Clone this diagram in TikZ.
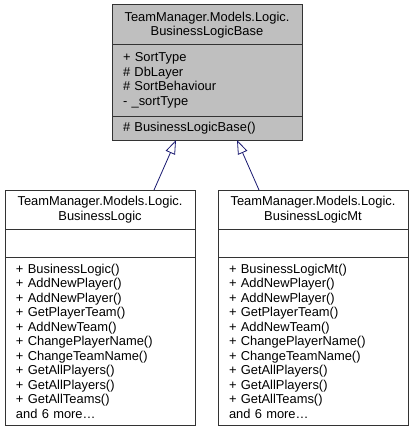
\documentclass[tikz,border=0pt]{standalone}
\usepackage{fontspec}
\setmainfont{Liberation Sans}
\usepackage{tikz}
\usetikzlibrary{
    arrows.meta,
    positioning
}
\definecolor{edgeblue}{RGB}{25,25,112}
\definecolor{basegray}{RGB}{191,191,191}

\begin{document}
\begin{tikzpicture}[
        x=1pt, y=-1pt,
        part/.style={
            draw=black!80, line width=1pt,
            outer sep=0pt,
            inner xsep=11pt, inner ysep=0pt,
            text width=168pt,
            font=\fontsize{12.9}{14.5}\selectfont
        },
        title/.style={part, align=center},
        members/.style={part, align=left},
        inherit/.style={
            draw=edgeblue, line width=0.8pt,
            -{Triangle[open, length=14pt, width=10pt]}
        }
    ]
    \useasboundingbox (0,0) rectangle (413,433);

    % base class
    \node[title, fill=basegray, minimum height=40pt, anchor=north west] (baseTitle) at (112,5) {
        TeamManager.Models.Logic.\\BusinessLogicBase
    };
    \node[members, fill=basegray, minimum height=71pt, below=0pt of baseTitle] (baseAttr) {
        + SortType\\
        \# DbLayer\\
        \# SortBehaviour\\
        - \_sortType
    };
    \node[members, fill=basegray, minimum height=24pt, below=0pt of baseAttr] (baseOps) {
        \# BusinessLogicBase()
    };

    % BusinessLogic
    \node[title, minimum height=39pt, anchor=north west] (logicTitle) at (5,190) {
        TeamManager.Models.Logic.\\BusinessLogic
    };
    \node[members, minimum height=28pt, below=0pt of logicTitle] (logicAttr) {};
    \node[members, minimum height=168pt, below=0pt of logicAttr] (logicOps) {
        + BusinessLogic()\\
        + AddNewPlayer()\\
        + AddNewPlayer()\\
        + GetPlayerTeam()\\
        + AddNewTeam()\\
        + ChangePlayerName()\\
        + ChangeTeamName()\\
        + GetAllPlayers()\\
        + GetAllPlayers()\\
        + GetAllTeams()\\
        and 6 more\dots
    };

    % BusinessLogicMt
    \node[title, minimum height=39pt, anchor=north west] (mtTitle) at (218,190) {
        TeamManager.Models.Logic.\\BusinessLogicMt
    };
    \node[members, minimum height=28pt, below=0pt of mtTitle] (mtAttr) {};
    \node[members, minimum height=168pt, below=0pt of mtAttr] (mtOps) {
        + BusinessLogicMt()\\
        + AddNewPlayer()\\
        + AddNewPlayer()\\
        + GetPlayerTeam()\\
        + AddNewTeam()\\
        + ChangePlayerName()\\
        + ChangeTeamName()\\
        + GetAllPlayers()\\
        + GetAllPlayers()\\
        + GetAllTeams()\\
        and 6 more\dots
    };

    \draw[inherit] ([xshift=54pt]logicTitle.north) -- ([xshift=-31pt]baseOps.south);
    \draw[inherit] ([xshift=-54pt]mtTitle.north) -- ([xshift=30pt]baseOps.south);

\end{tikzpicture}
\end{document}
